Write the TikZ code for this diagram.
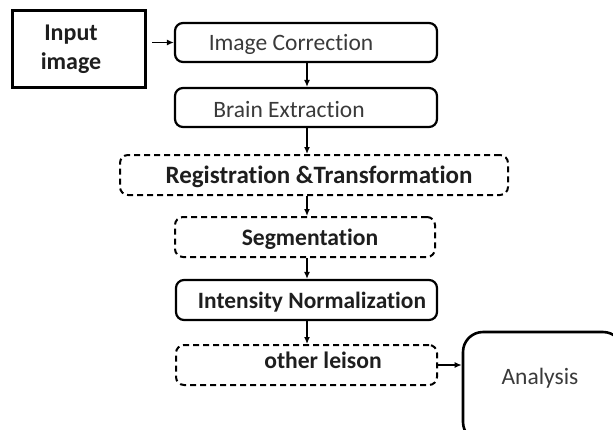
\documentclass[tikz,border=0pt]{standalone}
\usepackage{fontspec}
\setmainfont{Carlito}[Ligatures=NoCommon]
\usetikzlibrary{arrows.meta}
\definecolor{txtgray}{HTML}{3A3A3A}
\definecolor{txtdark}{HTML}{1E1E1E}
\tikzset{
  boxbase/.style={rectangle, rounded corners=8pt, line width=2.2pt, draw=black, inner sep=0pt},
  solidbox/.style={boxbase},
  dashbox/.style={boxbase, dash pattern=on 6pt off 4pt, line width=2pt},
  lbl/.style={font=\fontsize{23.5}{25}\selectfont, text=txtgray, inner sep=0pt},
  blbl/.style={font=\fontsize{23.6}{26}\selectfont\bfseries, text=txtdark, inner sep=0pt},
  arr/.style={-{Latex[length=7pt,width=6pt]}, line width=1.3pt, draw=black}
}
\begin{document}
\begin{tikzpicture}[x=1pt,y=-1pt]
\useasboundingbox (0,0) rectangle (613,429);
% input
\node[rectangle, draw=black, line width=3pt, minimum width=133pt, minimum height=77pt, inner sep=0pt] (inp) at (78.5,48.5) {};
\node[blbl, align=center, font=\fontsize{24}{28}\selectfont\bfseries] (inpt) at (71,49) {Input\\[1pt]image};
% boxes
\node[solidbox, minimum width=262pt, minimum height=39pt] (ic) at (306,42.5) {};
\node[lbl] (ict) at (291,44) {Image Correction};
\node[solidbox, minimum width=262pt, minimum height=39pt] (be) at (306,107.5) {};
\node[lbl] (bet) at (289,109) {Brain Extraction};
\node[dashbox, minimum width=388pt, minimum height=40pt] (rt) at (314,175) {};
\node[blbl, font=\fontsize{25}{27}\selectfont\bfseries] (rtt) at (319,177) {Registration \&Transformation};
\node[dashbox, minimum width=260pt, minimum height=40pt] (seg) at (305,237) {};
\node[blbl] (segt) at (310,239) {Segmentation};
\node[solidbox, minimum width=261pt, minimum height=40pt] (in) at (306.5,300) {};
\node[blbl, font=\fontsize{23.4}{26}\selectfont\bfseries] (int) at (312,302) {Intensity Normalization};
\node[dashbox, minimum width=261pt, minimum height=40pt] (ol) at (306.5,365) {};
\node[blbl] (olt) at (323,360) {other leison};
% analysis
\node[rectangle, rounded corners=20pt, draw=black, line width=2.6pt, minimum width=160pt, minimum height=110pt, inner sep=0pt] (an) at (543,387) {};
\node[lbl] (ant) at (540,378) {Analysis};
% arrows
\coordinate (c1) at (152,42.5);
\draw[arr] (c1) -- (ic.west);
\draw[arr] (ic.south -| 307,0) -- (be.north -| 307,0);
\draw[arr] (be.south -| 307,0) -- (rt.north -| 307,0);
\draw[arr] (rt.south -| 307,0) -- (seg.north -| 307,0);
\draw[arr] (seg.south -| 307,0) -- (in.north -| 307,0);
\draw[arr] (in.south -| 307,0) -- (ol.north -| 307,0);
\draw[arr] (ol.east |- 0,365) -- (an.west |- 0,365);
\end{tikzpicture}
\end{document}
